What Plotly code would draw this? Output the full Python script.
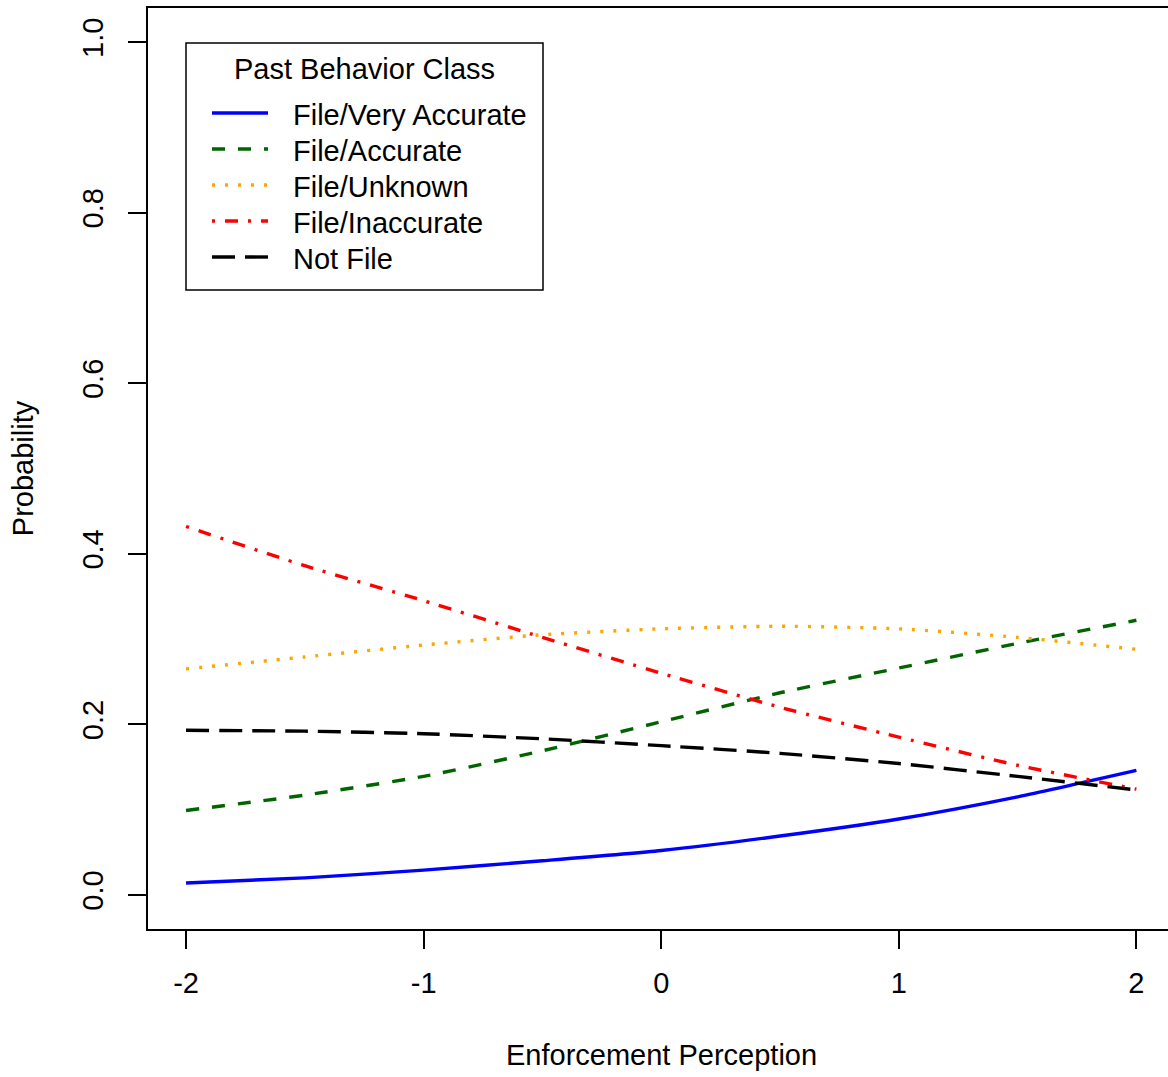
import plotly.graph_objects as go

# ---- data ----
x_vals = [-2, -1.5, -1, -0.5, 0, 0.5, 1, 1.5, 2]
very_accurate = [0.014, 0.020, 0.029, 0.040, 0.052, 0.069, 0.089, 0.115, 0.146]
accurate = [0.099, 0.117, 0.139, 0.169, 0.203, 0.237, 0.266, 0.295, 0.322]
unknown = [0.265, 0.279, 0.293, 0.305, 0.312, 0.315, 0.312, 0.302, 0.288]
inaccurate = [0.432, 0.386, 0.345, 0.302, 0.260, 0.220, 0.185, 0.152, 0.124]
not_file = [0.193, 0.192, 0.189, 0.183, 0.175, 0.166, 0.154, 0.139, 0.123]

series_names = ["File/Very Accurate", "File/Accurate", "File/Unknown",
                "File/Inaccurate", "Not File"]
series_values = [very_accurate, accurate, unknown, inaccurate, not_file]
series_colors = ["#0000FF", "#006400", "#FFA500", "#FF0000", "#000000"]
series_dashes = ["solid", "13px,13px", "3px,10px", "3px,10px,13px,10px", "23px,10px"]
legend_title = "Past Behavior Class"

x_tickvals = [-2, -1, 0, 1, 2]
x_ticktext = ["-2", "-1", "0", "1", "2"]
y_tickvals = [0.0, 0.2, 0.4, 0.6, 0.8, 1.0]
y_ticktext = ["0.0", "0.2", "0.4", "0.6", "0.8", "1.0"]

FONT = "Liberation Sans, Arial, sans-serif"
W, H = 1168, 1077
ML, MR, MT, MB = 148, 0, 8, 148
PW, PH = W - ML - MR, H - MT - MB


def px_x(px):
    return (px - ML) / PW


def px_y(py):
    return (H - MB - py) / PH


fig = go.Figure()
for name, vals, col, dash in zip(series_names, series_values, series_colors, series_dashes):
    fig.add_trace(go.Scatter(
        x=x_vals, y=vals, name=name, mode="lines", showlegend=False,
        line=dict(color=col, width=3.4, dash=dash, shape="spline", smoothing=0.6),
    ))

# ---- legend box (R-style) ----
shapes = [dict(type="rect", xref="paper", yref="paper",
               x0=px_x(186), x1=px_x(543), y0=px_y(290), y1=px_y(43),
               line=dict(color="black", width=1.5), fillcolor="white", layer="above")]
annotations = [dict(text=legend_title, xref="paper", yref="paper",
                    x=px_x(364), y=px_y(69), xanchor="center", yanchor="middle",
                    showarrow=False, font=dict(family=FONT, size=29, color="black"))]
entry_y = [113, 149, 185, 221, 257]
for name, col, dash, ey in zip(series_names, series_colors, series_dashes, entry_y):
    shapes.append(dict(type="line", xref="paper", yref="paper",
                       x0=px_x(212), x1=px_x(268), y0=px_y(ey), y1=px_y(ey),
                       line=dict(color=col, width=3.4, dash=dash), layer="above"))
    annotations.append(dict(text=name, xref="paper", yref="paper",
                            x=px_x(291), y=px_y(ey + 2), xanchor="left", yanchor="middle",
                            showarrow=False, font=dict(family=FONT, size=29, color="black")))

# x-axis title centred on the full (R) plot region, i.e. at x = 0
annotations.append(dict(text="Enforcement Perception", xref="x", yref="paper",
                        x=0, y=px_y(1055), xanchor="center", yanchor="middle",
                        showarrow=False, font=dict(family=FONT, size=29, color="black")))

fig.update_layout(
    width=W, height=H,
    margin=dict(l=ML, r=MR, t=MT, b=MB),
    paper_bgcolor="white", plot_bgcolor="white",
    font=dict(family=FONT, size=29, color="black"),
    showlegend=False,
    shapes=shapes,
    annotations=annotations,
)

fig.update_xaxes(
    range=[-2.16, 2.133], showgrid=False, zeroline=False,
    showline=True, linecolor="black", linewidth=1.5, mirror=True,
    ticks="outside", ticklen=18, tickwidth=1.5, tickcolor="black",
    tickvals=x_tickvals, ticktext=x_ticktext,
    tickfont=dict(family=FONT, size=29, color="black"),
    ticklabelstandoff=9,
)
fig.update_yaxes(
    range=[-0.04, 1.04], showgrid=False, zeroline=False,
    showline=True, linecolor="black", linewidth=1.5, mirror=False,
    ticks="outside", ticklen=18, tickwidth=1.5, tickcolor="black",
    tickvals=y_tickvals, ticktext=y_ticktext, tickangle=-90,
    tickfont=dict(family=FONT, size=29, color="black"),
    ticklabelstandoff=14,
    title=dict(text="Probability", standoff=35,
               font=dict(family=FONT, size=29, color="black")),
)

fig.write_html(
    "out.html",
    config={"displayModeBar": False},
    post_script=("document.documentElement.style.overflow='hidden';"
                 "document.body.style.margin='0';document.body.style.padding='0';"
                 "document.body.style.overflow='hidden';"),
)
